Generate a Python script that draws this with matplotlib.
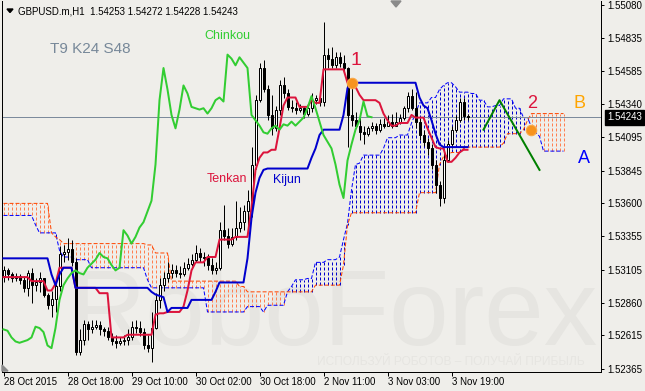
import numpy as np
import matplotlib.pyplot as plt
from matplotlib.patches import Polygon
from matplotlib.transforms import Affine2D, blended_transform_factory

plt.rcParams['font.family'] = ['Liberation Sans', 'DejaVu Sans']

# time axis: hourly bars, a label every 16 bars
tick_bars = [0, 16, 32, 48, 64, 80, 96, 112]
tick_labels = ["28 Oct 2015", "28 Oct 18:00", "29 Oct 10:00", "30 Oct 02:00",
               "30 Oct 18:00", "2 Nov 11:00", "3 Nov 03:00", "3 Nov 19:00"]
price_ticks = [1.55080, 1.54835, 1.54585, 1.54340, 1.54095, 1.53845,
               1.53600, 1.53355, 1.53105, 1.52860, 1.52615, 1.52365]

# GBPUSD H1 candles
opens = [
    1.5306, 1.5310, 1.5307, 1.5304, 1.5306, 1.5303, 1.5297, 1.5308, 1.5299, 1.5301,
    1.5304, 1.5292, 1.5284, 1.5289, 1.5298, 1.5322, 1.5324, 1.5326, 1.5316, 1.5249,
    1.5258, 1.5270, 1.5266, 1.5268, 1.5269, 1.5266, 1.5265, 1.5260, 1.5257, 1.5256,
    1.5257, 1.5258, 1.5260, 1.5268, 1.5267, 1.5264, 1.5254, 1.5252, 1.5267, 1.5288,
    1.5299, 1.5304, 1.5308, 1.5310, 1.5308, 1.5307, 1.5312, 1.5315, 1.5318, 1.5323,
    1.5320, 1.5319, 1.5314, 1.5310, 1.5312, 1.5340, 1.5336, 1.5330, 1.5335, 1.5342,
    1.5346, 1.5354, 1.5362, 1.5389, 1.5437, 1.5461, 1.5445, 1.5426, 1.5416, 1.5430,
    1.5448, 1.5442, 1.5432, 1.5431, 1.5430, 1.5431, 1.5427, 1.5431, 1.5437, 1.5439,
    1.5436, 1.5471, 1.5468, 1.5463, 1.5469, 1.5465, 1.5461, 1.5426, 1.5422, 1.5418,
    1.5413, 1.5412, 1.5416, 1.5418, 1.5415, 1.5419, 1.5418, 1.5421, 1.5418, 1.5421,
    1.5424, 1.5431, 1.5440, 1.5431, 1.5421, 1.5411, 1.5406, 1.5401, 1.5389, 1.5374,
    1.5364, 1.5392, 1.5404, 1.5415, 1.5422, 1.5436, 1.5425]
highs = [
    1.5313, 1.5312, 1.5309, 1.5308, 1.5307, 1.5306, 1.5310, 1.5312, 1.5304, 1.5309,
    1.5304, 1.5293, 1.5295, 1.5300, 1.5328, 1.5329, 1.5334, 1.5333, 1.5319, 1.5266,
    1.5273, 1.5272, 1.5273, 1.5273, 1.5272, 1.5268, 1.5268, 1.5263, 1.5262, 1.5260,
    1.5262, 1.5266, 1.5272, 1.5273, 1.5272, 1.5267, 1.5262, 1.5279, 1.5293, 1.5304,
    1.5309, 1.5316, 1.5315, 1.5314, 1.5313, 1.5316, 1.5319, 1.5322, 1.5329, 1.5327,
    1.5324, 1.5322, 1.5319, 1.5316, 1.5346, 1.5359, 1.5342, 1.5342, 1.5362, 1.5357,
    1.5359, 1.5370, 1.5402, 1.5441, 1.5465, 1.5467, 1.5448, 1.5441, 1.5433, 1.5452,
    1.5454, 1.5445, 1.5437, 1.5436, 1.5434, 1.5433, 1.5434, 1.5442, 1.5441, 1.5441,
    1.5495, 1.5476, 1.5477, 1.5473, 1.5473, 1.5471, 1.5462, 1.5450, 1.5428, 1.5426,
    1.5418, 1.5418, 1.5421, 1.5420, 1.5423, 1.5424, 1.5426, 1.5427, 1.5428, 1.5427,
    1.5433, 1.5443, 1.5445, 1.5443, 1.5424, 1.5415, 1.5409, 1.5404, 1.5392, 1.5377,
    1.5400, 1.5407, 1.5418, 1.5426, 1.5439, 1.5439, 1.5427]
lows = [
    1.5301, 1.5303, 1.5301, 1.5302, 1.5300, 1.5294, 1.5291, 1.5286, 1.5295, 1.5294,
    1.5290, 1.5281, 1.5275, 1.5279, 1.5295, 1.5316, 1.5318, 1.5313, 1.5247, 1.5247,
    1.5254, 1.5258, 1.5263, 1.5266, 1.5262, 1.5261, 1.5258, 1.5254, 1.5252, 1.5254,
    1.5254, 1.5254, 1.5258, 1.5263, 1.5261, 1.5251, 1.5249, 1.5242, 1.5266, 1.5282,
    1.5295, 1.5301, 1.5304, 1.5305, 1.5304, 1.5306, 1.5310, 1.5313, 1.5316, 1.5316,
    1.5313, 1.5310, 1.5307, 1.5307, 1.5310, 1.5333, 1.5327, 1.5328, 1.5333, 1.5339,
    1.5340, 1.5342, 1.5350, 1.5386, 1.5436, 1.5443, 1.5422, 1.5411, 1.5414, 1.5426,
    1.5439, 1.5430, 1.5428, 1.5427, 1.5428, 1.5424, 1.5425, 1.5428, 1.5434, 1.5433,
    1.5433, 1.5461, 1.5461, 1.5461, 1.5462, 1.5458, 1.5402, 1.5418, 1.5416, 1.5407,
    1.5404, 1.5410, 1.5414, 1.5412, 1.5413, 1.5416, 1.5418, 1.5416, 1.5418, 1.5419,
    1.5422, 1.5428, 1.5430, 1.5416, 1.5407, 1.5403, 1.5396, 1.5386, 1.5368, 1.5358,
    1.5360, 1.5391, 1.5401, 1.5413, 1.5421, 1.5422, 1.5422]
closes = [
    1.5310, 1.5307, 1.5304, 1.5306, 1.5303, 1.5297, 1.5308, 1.5299, 1.5301, 1.5304,
    1.5292, 1.5284, 1.5289, 1.5298, 1.5322, 1.5324, 1.5326, 1.5316, 1.5249, 1.5258,
    1.5270, 1.5266, 1.5268, 1.5269, 1.5266, 1.5265, 1.5260, 1.5257, 1.5256, 1.5257,
    1.5258, 1.5260, 1.5268, 1.5267, 1.5264, 1.5254, 1.5252, 1.5267, 1.5288, 1.5299,
    1.5304, 1.5308, 1.5310, 1.5308, 1.5307, 1.5312, 1.5315, 1.5318, 1.5323, 1.5320,
    1.5319, 1.5314, 1.5310, 1.5312, 1.5340, 1.5336, 1.5330, 1.5335, 1.5342, 1.5346,
    1.5354, 1.5362, 1.5389, 1.5437, 1.5461, 1.5445, 1.5426, 1.5416, 1.5430, 1.5448,
    1.5442, 1.5432, 1.5431, 1.5430, 1.5431, 1.5427, 1.5431, 1.5437, 1.5439, 1.5436,
    1.5471, 1.5468, 1.5463, 1.5469, 1.5465, 1.5461, 1.5426, 1.5422, 1.5418, 1.5413,
    1.5412, 1.5416, 1.5418, 1.5415, 1.5419, 1.5418, 1.5421, 1.5418, 1.5421, 1.5424,
    1.5431, 1.5440, 1.5431, 1.5421, 1.5411, 1.5406, 1.5401, 1.5389, 1.5374, 1.5364,
    1.5392, 1.5404, 1.5415, 1.5422, 1.5436, 1.5425, 1.54243]

# Ichimoku lines (T9 K24 S48)
tenkan = [
    1.5305, 1.5305, 1.5305, 1.5305, 1.5305, 1.5305, 1.5305, 1.5302, 1.5302, 1.5302,
    1.5302, 1.5295, 1.5295, 1.5300, 1.5312, 1.5312, 1.5312, 1.5312, 1.5297, 1.5297,
    1.5297, 1.5297, 1.5297, 1.5297, 1.5293, 1.5293, 1.5293, 1.5260, 1.5260, 1.5260,
    1.5260, 1.5262, 1.5262, 1.5262, 1.5262, 1.5262, 1.5262, 1.5262, 1.5277, 1.5278,
    1.5278, 1.5279, 1.5279, 1.5279, 1.5279, 1.5283, 1.5295, 1.5310, 1.5316, 1.5316,
    1.5316, 1.5320, 1.5320, 1.5320, 1.5333, 1.5333, 1.5333, 1.5333, 1.5335, 1.5335,
    1.5335, 1.5335, 1.5357, 1.5385, 1.5394, 1.5398, 1.5398, 1.5400, 1.5400, 1.5416,
    1.5433, 1.5439, 1.5439, 1.5439, 1.5432, 1.5432, 1.5432, 1.5437, 1.5435, 1.5435,
    1.5460, 1.5460, 1.5460, 1.5460, 1.5460, 1.5460, 1.5450, 1.5450, 1.5447, 1.5441,
    1.5437, 1.5437, 1.5437, 1.5437, 1.5435, 1.5427, 1.5422, 1.5418, 1.5418, 1.5420,
    1.5420, 1.5420, 1.5426, 1.5424, 1.5424, 1.5424, 1.5416, 1.5409, 1.5402, 1.5401,
    1.5401, 1.5391, 1.5391, 1.5394, 1.5398, 1.5400, 1.5400]
kijun = [
    1.5319, 1.5319, 1.5319, 1.5319, 1.5319, 1.5319, 1.5319, 1.5319, 1.5319, 1.5319,
    1.5319, 1.5319, 1.5307, 1.5299, 1.5307, 1.5312, 1.5312, 1.5312, 1.5297, 1.5297,
    1.5297, 1.5297, 1.5297, 1.5297, 1.5297, 1.5297, 1.5297, 1.5297, 1.5297, 1.5297,
    1.5297, 1.5297, 1.5297, 1.5297, 1.5297, 1.5297, 1.5297, 1.5294, 1.5292, 1.5291,
    1.5290, 1.5279, 1.5282, 1.5282, 1.5282, 1.5282, 1.5282, 1.5288, 1.5288, 1.5288,
    1.5288, 1.5288, 1.5288, 1.5294, 1.5301, 1.5301, 1.5301, 1.5301, 1.5301, 1.5301,
    1.5301, 1.5319, 1.5349, 1.5368, 1.5379, 1.5385, 1.5386, 1.5386, 1.5386, 1.5386,
    1.5386, 1.5386, 1.5386, 1.5386, 1.5386, 1.5386, 1.5386, 1.5394, 1.5401, 1.5411,
    1.5415, 1.5415, 1.5415, 1.5415, 1.5415, 1.5426, 1.5446, 1.5450, 1.5450, 1.5450,
    1.5450, 1.5450, 1.5450, 1.5450, 1.5450, 1.5450, 1.5450, 1.5450, 1.5450, 1.5450,
    1.5450, 1.5450, 1.5450, 1.5450, 1.5439, 1.5433, 1.5431, 1.5422, 1.5412, 1.5404,
    1.5402, 1.5402, 1.5402, 1.5402, 1.5402, 1.5402, 1.5402]
senkou_a = [
    1.5351, 1.5351, 1.5351, 1.5351, 1.5351, 1.5351, 1.5351, 1.5351, 1.5344, 1.5338,
    1.5338, 1.5338, 1.5338, 1.5338, 1.5325, 1.5320, 1.5320, 1.5320, 1.5318, 1.5318,
    1.5318, 1.5318, 1.5312, 1.5312, 1.5312, 1.5312, 1.5312, 1.5312, 1.5312, 1.5312,
    1.5312, 1.5312, 1.5312, 1.5312, 1.5312, 1.5312, 1.5303, 1.5297, 1.5297, 1.5297,
    1.5297, 1.5297, 1.5297, 1.5297, 1.5297, 1.5297, 1.5297, 1.5297, 1.5297, 1.5297,
    1.5297, 1.5279, 1.5279, 1.5279, 1.5279, 1.5279, 1.5279, 1.5279, 1.5279, 1.5279,
    1.5279, 1.5283, 1.5283, 1.5283, 1.5283, 1.5279, 1.5284, 1.5284, 1.5284, 1.5284,
    1.5284, 1.5294, 1.5298, 1.5303, 1.5303, 1.5303, 1.5304, 1.5304, 1.5316, 1.5316,
    1.5316, 1.5318, 1.5318, 1.5318, 1.5320, 1.5333, 1.5345, 1.5370, 1.5389, 1.5390,
    1.5396, 1.5396, 1.5396, 1.5396, 1.5396, 1.5401, 1.5409, 1.5409, 1.5409, 1.5411,
    1.5411, 1.5411, 1.5420, 1.5427, 1.5435, 1.5435, 1.5435, 1.5439, 1.5439, 1.5445,
    1.5448, 1.5450, 1.5450, 1.5447, 1.5443, 1.5443, 1.5443, 1.5442, 1.5442, 1.5437,
    1.5437, 1.5432, 1.5432, 1.5433, 1.5433, 1.5438, 1.5438, 1.5438, 1.5431, 1.5431,
    1.5424, 1.5424, 1.5417, 1.5413, 1.5410, 1.5399, 1.5399, 1.5399, 1.5399, 1.5399,
    1.5399]
senkou_b = [
    1.5360, 1.5360, 1.5360, 1.5360, 1.5360, 1.5360, 1.5360, 1.5360, 1.5360, 1.5360,
    1.5360, 1.5360, 1.5338, 1.5335, 1.5333, 1.5330, 1.5330, 1.5330, 1.5330, 1.5330,
    1.5330, 1.5330, 1.5330, 1.5330, 1.5330, 1.5330, 1.5330, 1.5330, 1.5330, 1.5330,
    1.5330, 1.5330, 1.5330, 1.5330, 1.5330, 1.5330, 1.5329, 1.5329, 1.5323, 1.5323,
    1.5323, 1.5323, 1.5302, 1.5302, 1.5302, 1.5302, 1.5302, 1.5302, 1.5302, 1.5302,
    1.5302, 1.5302, 1.5302, 1.5302, 1.5302, 1.5302, 1.5302, 1.5302, 1.5302, 1.5298,
    1.5298, 1.5294, 1.5294, 1.5294, 1.5294, 1.5294, 1.5294, 1.5294, 1.5294, 1.5294,
    1.5294, 1.5294, 1.5294, 1.5294, 1.5294, 1.5294, 1.5294, 1.5294, 1.5299, 1.5299,
    1.5299, 1.5299, 1.5299, 1.5299, 1.5299, 1.5314, 1.5344, 1.5353, 1.5353, 1.5353,
    1.5353, 1.5353, 1.5353, 1.5353, 1.5353, 1.5353, 1.5353, 1.5353, 1.5353, 1.5353,
    1.5353, 1.5353, 1.5353, 1.5353, 1.5368, 1.5368, 1.5368, 1.5368, 1.5368, 1.5389,
    1.5395, 1.5396, 1.5398, 1.5398, 1.5398, 1.5401, 1.5402, 1.5402, 1.5402, 1.5402,
    1.5402, 1.5402, 1.5402, 1.5402, 1.5402, 1.5405, 1.5412, 1.5412, 1.5412, 1.5412,
    1.5415, 1.5422, 1.5427, 1.5427, 1.5427, 1.5427, 1.5427, 1.5427, 1.5427, 1.5427,
    1.5427]
chinkou_shift = 24

# hand-drawn analysis marks
signal_bars = [87.2, 131.8]
signal_prices = [1.5450, 1.5415]
forecast_bars = [120, 124, 134]
forecast_prices = [1.5415, 1.5437, 1.5385]

bg = '#EFEEEA'
wm = '#E6E5E1'
W, H = 645, 391
px1 = 0.72  # one pixel in points at dpi 100

fig = plt.figure(figsize=(W / 100, H / 100), dpi=100)
fig.patch.set_facecolor(bg)
ax = fig.add_axes([2 / W, 19 / H, 599 / W, 371 / H])
ax.set_facecolor(bg)
# 4 px per bar, bar centres on pixel centres
ax.set_xlim(-0.375, -0.375 + 599 / 4)
ax.set_ylim(1.52342, 1.55110)

# pixel coordinates (from top-left) for texts and small marks
pix = Affine2D().scale(1 / W, -1 / H).translate(0, 1) + fig.transFigure

# watermark
ax.text(68, 345, "RoboForex", transform=pix, fontsize=77, color=wm,
        ha='left', va='baseline', zorder=0.2)
ax.text(317, 365, "ИСПОЛЬЗУЙ РОБОТОВ – ПОЛУЧАЙ ПРИБЫЛЬ", transform=pix,
        fontsize=8.6, color=wm, ha='left', va='baseline', zorder=0.2)

# cloud
sa = np.array(senkou_a)
sb = np.array(senkou_b)
cidx = np.arange(len(sa))
up = sa > sb
ax.vlines(cidx[up], sb[up], sa[up], colors='#0000CC', linewidth=px1,
          linestyles=[(0, (3, 2))], zorder=1)
ax.vlines(cidx[~up], sa[~up], sb[~up], colors='#FF7F50', linewidth=px1,
          linestyles=[(0, (3, 2))], zorder=1)
ax.plot(cidx, sa, color='#0000FF', lw=px1, ls=(0, (4, 2)), zorder=2)
ax.plot(cidx, sb, color='#FF4500', lw=px1, ls=(0, (4, 2)), zorder=2)

# current price line
ax.axhline(closes[-1], color='#7C8A9C', lw=px1, zorder=2.5)

# candles
o = np.array(opens)
h = np.array(highs)
l = np.array(lows)
c = np.array(closes)
idx = np.arange(len(c))
ax.vlines(idx, l, h, color='black', lw=px1, zorder=3)
bull = c >= o
ax.bar(idx[bull], (c - o)[bull], bottom=o[bull], width=0.5, color='white',
       edgecolor='black', linewidth=px1, zorder=4)
ax.bar(idx[~bull], (o - c)[~bull], bottom=c[~bull], width=0.5, color='black',
       edgecolor='black', linewidth=px1, zorder=4)

# Tenkan, Kijun, Chinkou
ax.plot(idx, tenkan, color='#DC143C', lw=1.44, zorder=5)
ax.plot(idx, kijun, color='#0000CD', lw=1.44, zorder=5)
ax.plot(idx[:-chinkou_shift], c[chinkou_shift:], color='#32CD32', lw=1.44, zorder=6)

# analysis marks
ax.plot(forecast_bars, forecast_prices, color='#008000', lw=1.44, zorder=6)
ax.plot(signal_bars, signal_prices, 'o', ms=7.5, color='#F7931E',
        mec='#F9A848', mew=0.8, zorder=7)

# labels
ax.text(50, 53, "T9 K24 S48", transform=pix, fontsize=11, color='#778899',
        ha='left', va='baseline', zorder=8)
ax.text(204, 39, "Chinkou", transform=pix, fontsize=9, color='#32CD32',
        ha='left', va='baseline', zorder=8)
ax.text(207, 182.5, "Tenkan", transform=pix, fontsize=9, color='#DC143C',
        ha='left', va='baseline', zorder=8)
ax.text(273, 182.5, "Kijun", transform=pix, fontsize=9, color='#0000CD',
        ha='left', va='baseline', zorder=8)
ax.text(356, 65, "1", transform=pix, fontsize=14, color='#DC143C',
        ha='center', va='baseline', zorder=8)
ax.text(532, 108, "2", transform=pix, fontsize=13, color='#DC143C',
        ha='center', va='baseline', zorder=8)
ax.text(579.5, 108, "B", transform=pix, fontsize=13, color='#FFA500',
        ha='center', va='baseline', zorder=8)
ax.text(583.5, 163, "A", transform=pix, fontsize=13, color='#0000FF',
        ha='center', va='baseline', zorder=8)

# header
fig.text(18 / W, 1 - 14 / H, "GBPUSD.m,H1  1.54253 1.54272 1.54228 1.54243",
         fontsize=7, color='black', ha='left', va='baseline')
fig.add_artist(Polygon([(7, 9), (13, 9), (10, 12.5)], closed=True,
                       transform=pix, color='black'))
fig.add_artist(Polygon([(391, 1), (401, 1), (396, 7)], closed=True,
                       transform=pix, color='#8A8A8A'))
fig.add_artist(Polygon([(2, 371), (8, 371), (2, 365)], closed=True,
                       transform=pix, color='#8A8A8A'))

# axes
for side in ['left', 'right', 'bottom']:
    ax.spines[side].set_linewidth(px1)
    ax.spines[side].set_color('black')
ax.spines['top'].set_visible(False)
ax.yaxis.tick_right()
ax.set_yticks(price_ticks)
ax.set_yticklabels([f"{p:.5f}" for p in price_ticks])
ax.set_xticks(tick_bars)
ax.set_xticklabels(tick_labels, ha='left')
ax.tick_params(axis='y', direction='out', length=2.2, width=px1, pad=2.2,
               labelsize=7)
ax.tick_params(axis='x', direction='out', length=3, width=px1, pad=0.8,
               labelsize=7)

# last price tag
tag = blended_transform_factory(ax.transAxes, ax.transData)
ax.text((607 - 2) / 599, closes[-1], f"{closes[-1]:.5f}", transform=tag,
        fontsize=7, color='white', ha='left', va='center', clip_on=False,
        zorder=9, bbox=dict(boxstyle='square,pad=0.25', facecolor='black',
                            edgecolor='black'))

fig.savefig('out.png', dpi=100, facecolor=bg)
